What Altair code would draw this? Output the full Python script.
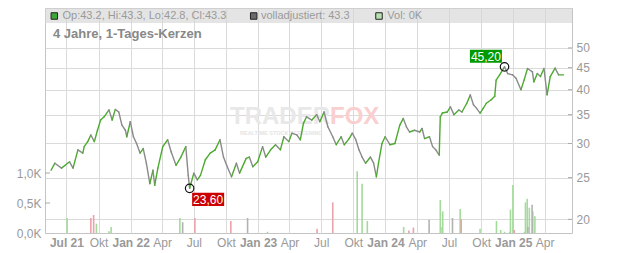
import altair as alt
import numpy as np
import pandas as pd

START = "2021-07-01"

# daily closes (days after START, close in EUR)
price_days = [-44, -33, -14, 9, 19, 33, 47, 51, 61, 70, 80, 89, 98, 108, 122, 131, 140, 150, 159, 169,
              173, 183, 192, 201, 211, 220, 229, 239, 248, 253, 262, 276, 290, 300, 314, 328, 342, 349, 353, 365,
              375, 384, 398, 412, 426, 440, 450, 459, 473, 487, 496, 515, 524, 534, 548, 562, 571, 585, 599, 613,
              623, 637, 646, 660, 670, 679, 688, 703, 717, 726, 738, 749, 763, 773, 787, 796, 810, 819, 829, 838,
              847, 857, 871, 880, 888, 894, 904, 913, 927, 941, 955, 965, 974, 983, 997, 1012, 1019, 1026, 1040, 1049,
              1058, 1068, 1071, 1077, 1091, 1100, 1110, 1124, 1133, 1147, 1157, 1166, 1175, 1185, 1194, 1203, 1217, 1227, 1231, 1241,
              1255, 1264, 1278, 1288, 1302, 1311, 1321, 1335, 1339, 1349, 1358, 1368, 1377, 1386, 1400, 1410, 1424]
price_close = [26.0, 27.0, 26.3, 27.2, 26.3, 29.0, 28.5, 29.5, 30.3, 31.4, 30.3, 32.2, 34.0, 34.6, 35.9, 34.0, 36.0, 35.5, 33.1, 32.2,
               31.1, 33.7, 31.1, 30.0, 28.5, 29.2, 27.0, 24.2, 26.0, 24.0, 26.3, 29.5, 30.6, 28.7, 26.7, 27.9, 29.5, 25.3, 23.6, 25.6,
               24.7, 25.3, 27.5, 28.5, 29.0, 30.6, 27.9, 26.7, 25.1, 27.0, 25.6, 27.7, 27.9, 26.5, 27.2, 29.5, 27.9, 29.0, 29.8, 29.0,
               31.1, 30.3, 31.7, 31.4, 30.6, 33.4, 34.6, 34.0, 35.0, 33.7, 35.5, 32.8, 31.1, 29.8, 31.1, 29.8, 30.8, 31.7, 30.6, 29.0,
               27.9, 27.0, 27.9, 27.0, 25.1, 27.0, 30.0, 31.1, 29.8, 30.0, 33.1, 34.3, 32.8, 31.9, 32.2, 31.9, 32.5, 30.8, 31.1, 29.5,
               29.0, 28.2, 34.6, 35.3, 35.5, 36.5, 35.0, 35.9, 35.5, 37.2, 38.9, 36.9, 36.2, 35.3, 36.2, 37.2, 37.9, 38.6, 42.1, 43.3,
               45.2, 43.6, 43.3, 42.5, 40.0, 42.1, 44.8, 44.0, 41.7, 43.6, 42.9, 44.8, 38.9, 42.9, 44.9, 43.3, 43.3]

# volume in thousands
vol_days = [2, 70, 78, 86, 122, 128, 325, 333, 368, 471, 519, 576, 718, 763, 833, 847, 862, 966, 981, 994,
            1039, 1071, 1073, 1078, 1106, 1128, 1131, 1185, 1232, 1244, 1255, 1270, 1272, 1279, 1283, 1312, 1315, 1320, 1322, 1326,
            1334, 1336, 1342]
vol_k = [0.25, 0.25, 0.30, 0.155, 0.03, 0.10, 0.25, 0.18, 0.25, 0.20, 0.25, 0.02, 0.07, 0.51, 1.03, 0.82, 0.20, 0.10, 0.04, 0.09,
         0.22, 0.55, 0.10, 0.36, 0.25, 0.40, 0.23, 0.07, 0.20, 0.05, 0.02, 0.02, 0.39, 0.80, 0.05, 0.02, 0.51, 0.57, 0.10, 0.42,
         0.47, 0.36, 0.28]
vol_kind = ["up", "down", "down", "up", "up", "up", "up", "flat", "down", "down", "flat", "up", "down", "down", "up", "up", "up", "up", "down", "down",
            "flat", "up", "up", "up", "flat", "up", "down", "up", "up", "up", "up", "up", "up", "up", "down", "up", "up", "up", "flat", "up",
            "flat", "up", "up"]

quarter_ticks = ["2021-07-01", "2021-10-01", "2022-01-01", "2022-04-01", "2022-07-01", "2022-10-01",
                 "2023-01-01", "2023-04-01", "2023-07-01", "2023-10-01", "2024-01-01", "2024-04-01",
                 "2024-07-01", "2024-10-01", "2025-01-01", "2025-04-01"]
x_range = ["2021-05-15", "2025-06-04"]
price_ticks = [20, 25, 30, 35, 40, 45, 50]
price_range = [18.59, 61.9]
vol_ticks = [0.5, 1.0]
vol_axis_ticks = [0, 0.5, 1.0]
vol_range = [0, 3.75]

low_day, low_val, low_text = 353, 23.6, "23,60"
high_day, high_val, high_text = 1255, 45.2, "45,20"

legend_texts = ["Op:43.2, Hi:43.3, Lo:42.8, Cl:43.3", "volladjustiert: 43.3", "Vol: 0K"]
legend_colors = ["#3fa63a", "#6a6a6a", "#b7e2b0"]
subtitle = "4 Jahre, 1-Tages-Kerzen"

FONT = "Liberation Sans"
start = pd.Timestamp(START)


def to_ms(d):
    return int((start + pd.Timedelta(days=d)).value // 10**6)


def iso_ms(s):
    return int(pd.Timestamp(s).value // 10**6)


price = pd.DataFrame({"date": [to_ms(d) for d in price_days], "close": price_close})
price["prev_date"] = price["date"].shift()
price["prev_close"] = price["close"].shift()
price = price.dropna().copy()
price["dir"] = np.where(price["close"] >= price["prev_close"], "up", "down")

vol = pd.DataFrame({"date": [to_ms(d) for d in vol_days], "vol": vol_k, "kind": vol_kind})

months = "['Jan','Feb','Mär','Apr','Mai','Jun','Jul','Aug','Sep','Okt','Nov','Dez'][utcmonth(datum.value)]"
first = iso_ms(quarter_ticks[0]) + 5 * 86400000
is_bold = f"utcmonth(datum.value)==0 || datum.value < {first}"

x_scale = alt.Scale(type="utc", domain=[iso_ms(x_range[0]), iso_ms(x_range[1])], nice=False)
x_axis = alt.Axis(values=[iso_ms(s) for s in quarter_ticks],
                  labelExpr=f"({is_bold}) ? {months} + ' ' + utcFormat(datum.value, '%y') : {months}",
                  labelFontWeight={"condition": {"test": is_bold, "value": "bold"}, "value": "normal"},
                  grid=True, gridColor="#dadada", gridWidth=1, ticks=False, domain=False,
                  labelColor="#999999", labelFontSize=12, labelFont=FONT, labelPadding=4,
                  labelOverlap=False, labelFlush=False, title=None)

p_scale = alt.Scale(type="log", domain=price_range, nice=False)
p_axis = alt.Axis(orient="right", values=price_ticks, format="d", grid=True, gridColor="#dadada",
                  ticks=False, domain=False, labelColor="#999999", labelFontSize=12, labelFont=FONT,
                  labelPadding=4, title=None)

v_scale = alt.Scale(domain=vol_range, nice=False, zero=True)
v_axis = alt.Axis(orient="left", values=vol_axis_ticks, grid=False, ticks=False, domain=False,
                  labelExpr="replace(format(datum.value, '.1f'), '.', ',') + 'K'",
                  labelColor="#999999", labelFontSize=12, labelFont=FONT, labelPadding=4, title=None)


def X(f):
    return alt.X(f, type="temporal", scale=x_scale, axis=x_axis)


def YP(f):
    return alt.Y(f, type="quantitative", scale=p_scale, axis=p_axis)


def YV(f):
    return alt.Y(f, type="quantitative", scale=v_scale, axis=v_axis)


one = pd.DataFrame({"a": [0]})

# background: header band and watermark
header = alt.Chart(one).mark_rect(color="#d6d6d6", opacity=0.65).encode(
    x=alt.value(0), x2=alt.value(527), y=alt.value(0), y2=alt.value(15))
wm1 = alt.Chart(one).mark_text(text="TRADER", font=FONT, fontSize=24, fontWeight="bold",
                               color="#e8e8e8", align="right", baseline="alphabetic").encode(
    x=alt.value(285), y=alt.value(116))
wm2 = alt.Chart(one).mark_text(text="FOX", font=FONT, fontSize=24, fontWeight="bold",
                               color="#f9cfcf", align="left", baseline="alphabetic").encode(
    x=alt.value(285), y=alt.value(116))
wm3 = alt.Chart(one).mark_text(text="REALTIME STOCK SCREENING", font=FONT, fontSize=5.5, fontWeight="bold",
                               color="#e4e4e4", align="left", baseline="top").encode(
    x=alt.value(195), y=alt.value(123))
bg = alt.layer(header, wm1, wm2, wm3)

# volume
vol_colors = {"up": "#a4da9c", "down": "#eba2aa", "flat": "#b2b2b2"}
vol_layers = [alt.Chart(vol[vol["kind"] == k]).mark_bar(width=1.6, color=c).encode(x=X("date"), y=YV("vol"))
              for k, c in vol_colors.items()]
vticks = alt.Chart(pd.DataFrame({"v": vol_ticks})).mark_rule(color="#aaaaaa").encode(
    y=YV("v"), x=alt.value(0), x2=alt.value(5))
vol_layer = alt.layer(*vol_layers, vticks)

# price
segs = alt.Chart(price).mark_rule(strokeWidth=1.4, strokeCap="round").encode(
    x=X("prev_date"), x2="date:T", y=YP("prev_close"), y2="close:Q",
    color=alt.condition("datum.dir == 'up'", alt.value("#4caa2e"), alt.value("#8a8a8a")))
pticks = alt.Chart(pd.DataFrame({"t": price_ticks})).mark_rule(color="#aaaaaa").encode(
    y=YP("t"), x=alt.value(523), x2=alt.value(527))

BOX = "M-1,-0.41L1,-0.41L1,0.41L-1,0.41Z"


def marker(day, val, text, fill, dx, dy):
    d = pd.DataFrame({"date": [to_ms(day)], "v": [val], "label": [text]})
    ring = alt.Chart(d).mark_point(shape="circle", size=72, filled=False, color="#111111",
                                   strokeWidth=1.2, opacity=1).encode(x=X("date"), y=YP("v"))
    box = alt.Chart(d).mark_point(shape=BOX, size=1024, filled=True, color=fill, opacity=1,
                                  xOffset=dx, yOffset=dy).encode(x=X("date"), y=YP("v"))
    lab = alt.Chart(d).mark_text(font=FONT, fontSize=12, color="white", align="center", baseline="middle",
                                 xOffset=dx, yOffset=dy + 0.5).encode(x=X("date"), y=YP("v"), text="label:N")
    return [ring, box, lab]


price_layer = alt.layer(segs, pticks,
                        *marker(low_day, low_val, low_text, "#cc0000", 18.5, 11),
                        *marker(high_day, high_val, high_text, "#009a00", -18.6, -10.6))

# header legend and subtitle
fg = []
for sx, tx, t, c in zip([9.3, 208.7, 334], [17.5, 216, 342.3], legend_texts, legend_colors):
    fg.append(alt.Chart(one).mark_square(size=42, color=c, stroke="#222222", strokeWidth=1, opacity=1).encode(
        x=alt.value(sx), y=alt.value(8)))
    fg.append(alt.Chart(one).mark_text(text=t, font=FONT, fontSize=11, color="#9a9a9a",
                                       align="left", baseline="middle").encode(x=alt.value(tx), y=alt.value(8)))
fg.append(alt.Chart(one).mark_text(text=subtitle, font=FONT, fontSize=13, fontWeight="bold", color="#888888",
                                   align="left", baseline="middle").encode(x=alt.value(8), y=alt.value(25.5)))
fg_layer = alt.layer(*fg)

chart = alt.layer(bg, vol_layer, price_layer, fg_layer).resolve_scale(y="independent").properties(
    width=527, height=225,
    padding={"left": 45, "top": 8, "right": 60, "bottom": 20},
    autosize=alt.AutoSizeParams(type="none"),
    background="white",
).configure_view(stroke="#c4c4c4", strokeWidth=1)

chart.save("out.html", embed_options={"renderer": "svg", "actions": False})
